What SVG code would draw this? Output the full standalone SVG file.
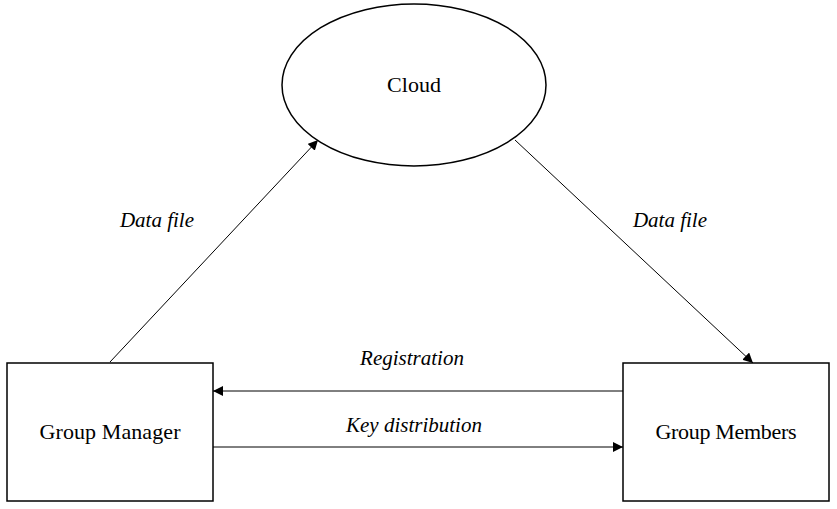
<svg xmlns="http://www.w3.org/2000/svg" width="837" height="509" viewBox="0 0 837 509">
<style>
.shape{fill:#fff;stroke:#000;stroke-width:1.5}
.node{font-family:"Liberation Serif","Times New Roman",serif;font-size:22px;fill:#000;text-anchor:middle}
.lbl{font-family:"Liberation Serif",serif;font-style:italic;font-size:21px;fill:#000;text-anchor:middle}
.conn{stroke:#000;stroke-width:1;fill:none;marker-end:url(#ah)}
</style>
<defs>
<marker id="ah" viewBox="0 0 10 10" refX="10" refY="5" markerWidth="10" markerHeight="10" markerUnits="userSpaceOnUse" orient="auto">
<path d="M0,0 L10,5 L0,10 z" fill="#000"/>
</marker>
</defs>
<rect width="837" height="509" fill="#fff"/>
<g id="cloud">
<ellipse class="shape" cx="414" cy="85" rx="132" ry="81"/>
<text class="node" x="414" y="92" textLength="54" lengthAdjust="spacing">Cloud</text>
</g>
<g id="group-manager">
<rect class="shape" x="7" y="363" width="206" height="138"/>
<text class="node" x="110" y="439" textLength="141" lengthAdjust="spacing">Group Manager</text>
</g>
<g id="group-members">
<rect class="shape" x="623" y="363" width="206" height="138"/>
<text class="node" x="726" y="439" textLength="141" lengthAdjust="spacing">Group Members</text>
</g>
<g id="connectors">
<line class="conn" x1="110" y1="362" x2="318" y2="140"/>
<line class="conn" x1="515" y1="140" x2="753" y2="363"/>
<line class="conn" x1="623" y1="391" x2="213" y2="391"/>
<line class="conn" x1="213" y1="447" x2="623" y2="447"/>
</g>
<g id="labels">
<text class="lbl" x="157" y="227">Data file</text>
<text class="lbl" x="670" y="227">Data file</text>
<text class="lbl" x="412" y="365">Registration</text>
<text class="lbl" x="414" y="432">Key distribution</text>
</g>
</svg>
